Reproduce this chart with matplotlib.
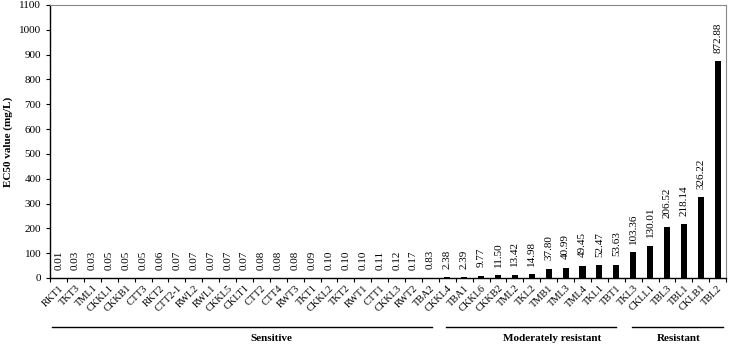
import numpy as np
import matplotlib.pyplot as plt

isolates = ['RKT1', 'TKT3', 'TML1', 'CKKL1', 'CKKB1', 'CTT3', 'RKT2', 'CTT2-1',
            'RWL2', 'RWL1', 'CKKL5', 'CKLT1', 'CTT2', 'CTT4', 'RWT3', 'TKT1',
            'CKKL2', 'TKT2', 'RWT1', 'CTT1', 'CKKL3', 'RWT2', 'TBA2',
            'CKKL4', 'TBA1', 'CKKL6', 'CKKB2', 'TML2', 'TKL2', 'TMB1', 'TML3',
            'TML4', 'TKL1', 'TBT1',
            'TKL3', 'CKLL1', 'TBL3', 'TBL1', 'CKLB1', 'TBL2']
ec50 = [0.01, 0.03, 0.03, 0.05, 0.05, 0.05, 0.06, 0.07, 0.07, 0.07, 0.07, 0.07,
        0.08, 0.08, 0.08, 0.09, 0.10, 0.10, 0.10, 0.11, 0.12, 0.17, 0.83,
        2.38, 2.39, 9.77, 11.50, 13.42, 14.98, 37.80, 40.99, 49.45, 52.47, 53.63,
        103.36, 130.01, 206.52, 218.14, 326.22, 872.88]
groups = ['Sensitive', 'Moderately resistant', 'Resistant']

plt.rcParams['font.family'] = ['Liberation Serif', 'DejaVu Serif']

fig = plt.figure(figsize=(7.38, 3.51), dpi=100)
ax = fig.add_axes([0.068, 0.208, 0.916, 0.778])

x = np.arange(len(isolates))
ax.bar(x, ec50, width=0.36, color='black')

for xi, v in zip(x, ec50):
    ax.annotate('%.2f' % v, (xi, v), xytext=(0, 6), textcoords='offset points',
                rotation=90, ha='center', va='bottom', fontsize=8)

ax.set_xlim(-0.5, len(isolates) - 0.5)
ax.set_ylim(0, 1100)
ax.set_yticks(np.arange(0, 1101, 100))
ax.set_xticks(x)
ax.set_xticklabels(isolates, rotation=45, ha='right', rotation_mode='anchor', fontsize=7.5)
ax.set_xticks(np.arange(-0.5, len(isolates), 1), minor=True)
ax.tick_params(axis='x', which='major', length=0, pad=4)
ax.tick_params(axis='x', which='minor', length=3, width=0.8)
ax.tick_params(axis='y', length=3, labelsize=8, width=0.8)
ax.set_ylabel('EC50 value (mg/L)', fontsize=8, fontweight='bold')
ax.yaxis.set_label_coords(-0.055, 0.5)

for s in ['top', 'right']:
    ax.spines[s].set_color('#888888')
    ax.spines[s].set_linewidth(0.8)
for s in ['left', 'bottom']:
    ax.spines[s].set_linewidth(1.0)

# group brackets below the axis
trans = ax.get_xaxis_transform()
line_spans = [(-0.38, 22.1), (22.9, 33.0), (33.9, 39.3)]
text_pos = [12.6, 29.2, 36.7]
for name, (a, b), tx in zip(groups, line_spans, text_pos):
    ax.plot([a, b], [-0.178, -0.178], transform=trans, color='black', lw=1, clip_on=False)
    ax.text(tx, -0.22, name, transform=trans, ha='center', va='center',
            fontsize=8, fontweight='bold')

fig.savefig('out.png', dpi=100)
